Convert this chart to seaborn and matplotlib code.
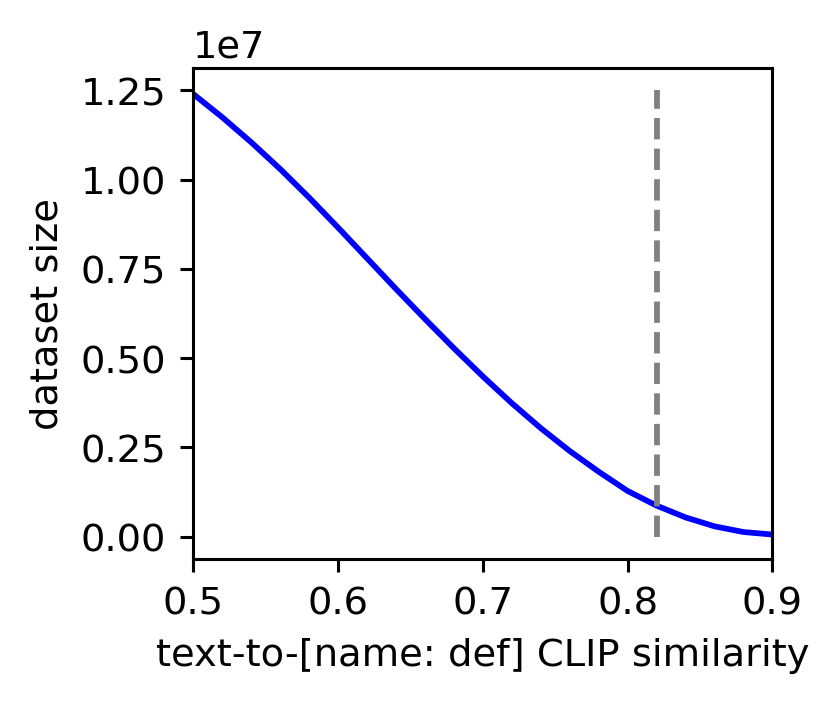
import numpy as np
import pandas as pd
import seaborn as sns
import matplotlib
matplotlib.use("Agg")
import matplotlib.pyplot as plt

# similarity threshold vs. remaining dataset size
thresholds = [0.50, 0.52, 0.54, 0.56, 0.58, 0.60, 0.62, 0.64, 0.66, 0.68, 0.70,
              0.72, 0.74, 0.76, 0.78, 0.80, 0.82, 0.84, 0.86, 0.88, 0.90]
sizes = [1.240e7, 1.175e7, 1.105e7, 1.030e7, 0.950e7, 0.866e7, 0.780e7, 0.694e7,
         0.610e7, 0.528e7, 0.449e7, 0.374e7, 0.304e7, 0.240e7, 0.182e7, 0.128e7,
         0.087e7, 0.054e7, 0.029e7, 0.013e7, 0.006e7]
chosen_threshold = 0.82
vline_top = 1.25e7
x_ticks = [0.5, 0.6, 0.7, 0.8, 0.9]
y_ticks = [0, 0.25e7, 0.5e7, 0.75e7, 1.0e7, 1.25e7]

df = pd.DataFrame({"threshold": thresholds, "size": sizes})

plt.rcParams["font.family"] = ["DejaVu Sans"]
fig, ax = plt.subplots(figsize=(3.0, 2.545), dpi=277)
fig.subplots_adjust(left=0.2325, right=0.9295, top=0.902, bottom=0.2057)

sns.lineplot(data=df, x="threshold", y="size", color="blue", linewidth=1.5, ax=ax)
ax.vlines(chosen_threshold, 0, vline_top, colors="gray", linestyles="--", linewidth=1.5)

ax.set_xlim(0.5, 0.9)
ax.set_xticks(x_ticks)
ax.set_yticks(y_ticks)
ax.set_xlabel("text-to-[name: def] CLIP similarity")
ax.set_ylabel("dataset size")

fig.savefig("out.png", dpi=277)
